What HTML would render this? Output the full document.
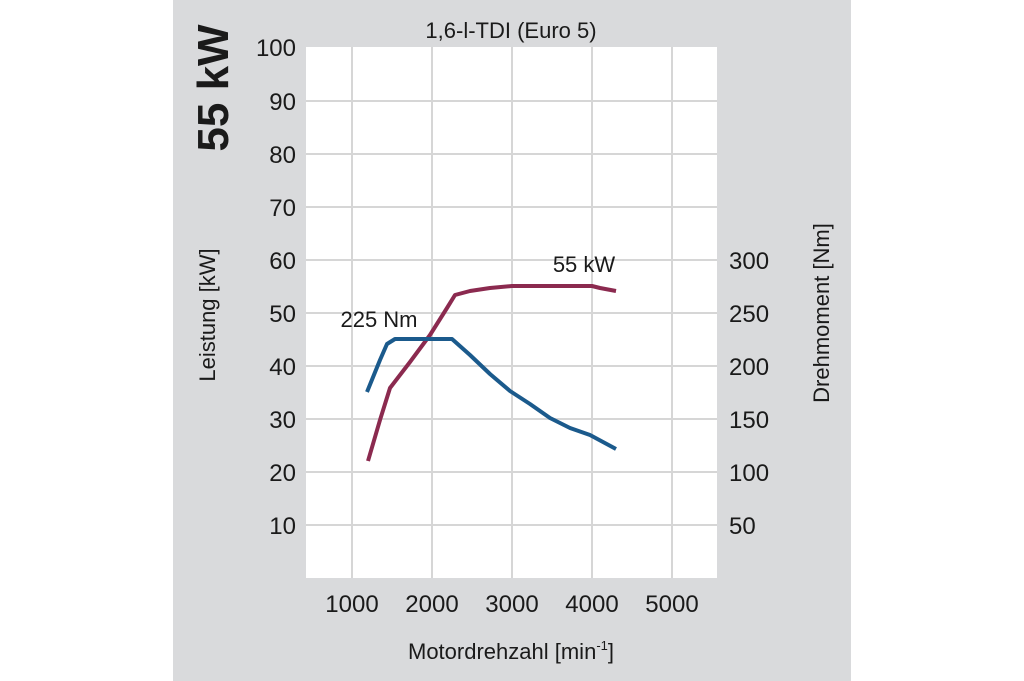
<!DOCTYPE html>
<html><head><meta charset="utf-8"><style>
html,body{margin:0;padding:0;background:#fff;}
svg{display:block;}
text{font-family:"Liberation Sans",sans-serif;fill:#1a1a1a;}
</style></head><body>
<svg width="1024" height="681" viewBox="0 0 1024 681">
<rect x="173" y="0" width="678" height="681" fill="#d9dadc"/>
<rect x="306" y="47" width="411" height="531" fill="#fff"/>
<g stroke="#d6d6d6" stroke-width="2">
<line x1="306" y1="101" x2="717" y2="101"/>
<line x1="306" y1="154" x2="717" y2="154"/>
<line x1="306" y1="207" x2="717" y2="207"/>
<line x1="306" y1="260" x2="717" y2="260"/>
<line x1="306" y1="313" x2="717" y2="313"/>
<line x1="306" y1="366" x2="717" y2="366"/>
<line x1="306" y1="419" x2="717" y2="419"/>
<line x1="306" y1="472" x2="717" y2="472"/>
<line x1="306" y1="525" x2="717" y2="525"/>
<line x1="352" y1="47" x2="352" y2="578"/>
<line x1="432" y1="47" x2="432" y2="578"/>
<line x1="512" y1="47" x2="512" y2="578"/>
<line x1="592" y1="47" x2="592" y2="578"/>
<line x1="672" y1="47" x2="672" y2="578"/>
</g>
<path d="M368,461 L380,420 L390,388 L410,362 L430,335 L447,308 L455,295 L470,291 L490,288 L512,286 L592,286 L600,288 L616,291" fill="none" stroke="#8b2a4f" stroke-width="4" stroke-linejoin="round"/>
<path d="M367,392 L380,360 L387,344 L395,339 L452,339 L470,355 L490,374 L510,391 L530,404 L550,418 L570,428 L590,435 L616,449" fill="none" stroke="#1b5a8c" stroke-width="4" stroke-linejoin="round"/>
<g font-size="24" text-anchor="end">
<text x="296" y="56">100</text><text x="296" y="110">90</text><text x="296" y="163">80</text>
<text x="296" y="216">70</text><text x="296" y="269">60</text><text x="296" y="322">50</text>
<text x="296" y="375">40</text><text x="296" y="428">30</text><text x="296" y="481">20</text>
<text x="296" y="534">10</text>
</g>
<g font-size="24" text-anchor="start">
<text x="729" y="269">300</text><text x="729" y="322">250</text><text x="729" y="375">200</text>
<text x="729" y="428">150</text><text x="729" y="481">100</text><text x="729" y="534">50</text>
</g>
<g font-size="24" text-anchor="middle">
<text x="352" y="612">1000</text><text x="432" y="612">2000</text><text x="512" y="612">3000</text>
<text x="592" y="612">4000</text><text x="672" y="612">5000</text>
</g>
<text x="511" y="38" font-size="22" text-anchor="middle">1,6-l-TDI (Euro 5)</text>
<text x="511" y="659" font-size="22" text-anchor="middle">Motordrehzahl [min<tspan font-size="13" dy="-9">-1</tspan><tspan dy="9">]</tspan></text>
<text x="379" y="327" font-size="22" text-anchor="middle">225 Nm</text>
<text x="584" y="272" font-size="22" text-anchor="middle">55 kW</text>
<text transform="translate(215,315) rotate(-90)" font-size="22" text-anchor="middle">Leistung [kW]</text>
<text transform="translate(829,313) rotate(-90)" font-size="22" text-anchor="middle">Drehmoment [Nm]</text>
<text transform="translate(228,88) rotate(-90)" font-size="44" font-weight="bold" text-anchor="middle">55 kW</text>
</svg>
</body></html>
